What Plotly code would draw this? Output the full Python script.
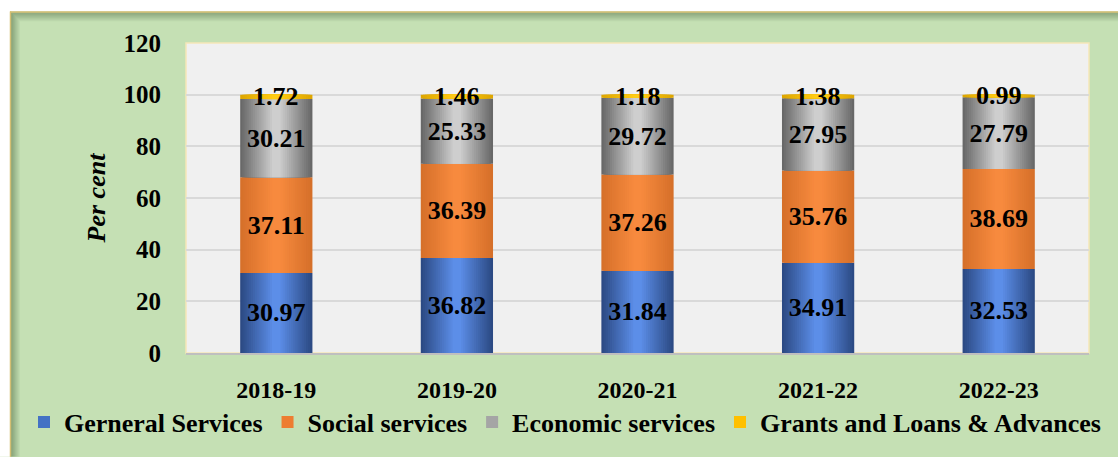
import plotly.graph_objects as go

years = ["2018-19", "2019-20", "2020-21", "2021-22", "2022-23"]
general = [30.97, 36.82, 31.84, 34.91, 32.53]
social = [37.11, 36.39, 37.26, 35.76, 38.69]
economic = [30.21, 25.33, 29.72, 27.95, 27.79]
grants = [1.72, 1.46, 1.18, 1.38, 0.99]

series_names = ["Gerneral Services", "Social services", "Economic services", "Grants and Loans & Advances"]
series_values = [general, social, economic, grants]
legend_colors = ["#4472C4", "#ED7D31", "#A5A5A5", "#FFC000"]
edge_colors = [(44, 74, 132), (214, 112, 42), (104, 104, 104), (222, 166, 0)]
center_colors = [(92, 142, 232), (247, 138, 62), (206, 206, 206), (255, 204, 20)]

W, H = 1118, 457
L, R, T, B = 186, 29, 43, 100
PW, PH = W - L - R, H - T - B
BAR_W = 0.4
N_LAYERS = 16


def px(x):
    return (x - L) / PW


def py(y):
    return (H - B - y) / PH


FONT = "Liberation Serif"

fig = go.Figure()
bases = [0.0] * len(years)
for s, (name, vals) in enumerate(zip(series_names, series_values)):
    base = list(bases)
    e, c = edge_colors[s], center_colors[s]
    for k in range(N_LAYERS):
        t = k / (N_LAYERS - 1)
        col = "rgb(%d,%d,%d)" % tuple(round(e[j] + (c[j] - e[j]) * t) for j in range(3))
        fig.add_trace(go.Bar(
            x=years, y=vals, base=base, width=BAR_W * (1 - 0.94 * k / N_LAYERS),
            marker=dict(color=col, line=dict(width=0)),
            showlegend=False, hoverinfo="skip",
        ))
    show_text = s < 3
    fig.add_trace(go.Bar(
        x=years, y=vals, base=base, width=BAR_W, name=name,
        marker=dict(color="rgba(0,0,0,0)", line=dict(width=0)),
        showlegend=False,
        text=[f"{v:.2f}" for v in vals] if show_text else None,
        textposition="inside" if show_text else "none",
        insidetextanchor="middle", textangle=0,
        textfont=dict(family=FONT, size=26, color="black", weight="bold"),
    ))
    fig.add_trace(go.Bar(
        x=[years[0]], y=[0], base=[0], width=BAR_W, name=name,
        marker=dict(color=legend_colors[s], line=dict(width=0)),
        showlegend=True, hoverinfo="skip", legendrank=s + 1,
    ))
    bases = [b + v for b, v in zip(bases, vals)]

for i, yr in enumerate(years):
    top_base = general[i] + social[i] + economic[i]
    fig.add_annotation(x=yr, y=top_base + grants[i] / 2, text=f"{grants[i]:.2f}",
                       showarrow=False, yanchor="middle",
                       font=dict(family=FONT, size=26, color="black", weight="bold"))

shapes = []
shapes.append(dict(type="rect", xref="paper", yref="paper", x0=px(-5), x1=px(W + 5), y0=py(11), y1=py(-5),
                   fillcolor="white", line=dict(width=0), layer="below"))
shapes.append(dict(type="rect", xref="paper", yref="paper", x0=px(-5), x1=px(10), y0=py(H + 5), y1=py(-5),
                   fillcolor="white", line=dict(width=0), layer="below"))
for k in range(9):
    a = 0.45 * (1 - k / 9)
    shapes.append(dict(type="line", xref="paper", yref="paper", x0=px(11.5 + k), x1=px(11.5 + k),
                       y0=py(12 + k), y1=py(H + 5), line=dict(color=f"rgba(60,90,50,{a:.3f})", width=1), layer="below"))
    shapes.append(dict(type="line", xref="paper", yref="paper", x0=px(12 + k), x1=px(W + 5),
                       y0=py(12.5 + k), y1=py(12.5 + k), line=dict(color=f"rgba(60,90,50,{a:.3f})", width=1), layer="below"))
shapes.append(dict(type="line", xref="paper", yref="paper", x0=px(10.5), x1=px(10.5), y0=py(11), y1=py(H + 5),
                   line=dict(color="#D4BE72", width=1.5), layer="below"))
shapes.append(dict(type="line", xref="paper", yref="paper", x0=px(10), x1=px(W + 5), y0=py(11.5), y1=py(11.5),
                   line=dict(color="#D4BE72", width=1.5), layer="below"))
shapes.append(dict(type="rect", xref="paper", yref="paper", x0=0, x1=1, y0=0, y1=1,
                   line=dict(color="#F5E6B8", width=1.5), layer="below"))

fig.update_layout(
    width=W, height=H,
    margin=dict(l=L, r=R, t=T, b=B),
    paper_bgcolor="#C5E0B4",
    plot_bgcolor="#F0F0F0",
    barmode="overlay",
    shapes=shapes,
    font=dict(family=FONT, size=24, color="black"),
    showlegend=True,
    legend=dict(orientation="h", x=px(24), xanchor="left", y=py(427), yanchor="middle",
                font=dict(family=FONT, size=26, color="black", weight="bold"),
                bgcolor="rgba(0,0,0,0)", itemwidth=30, tracegroupgap=0,
                traceorder="normal"),
    xaxis=dict(showgrid=False, showline=True, linecolor="#BFBFBF", linewidth=1.5,
               tickfont=dict(family=FONT, size=24, color="black", weight="bold"),
               ticks="", ticklabelstandoff=14),
    yaxis=dict(range=[0, 120], dtick=20, showgrid=True, gridcolor="#D9D9D9", gridwidth=2,
               zeroline=False, showline=False,
               tickfont=dict(family=FONT, size=25, color="black", weight="bold"),
               ticks="", ticklabelstandoff=24,
               title=dict(text="<i>Per cent</i>", standoff=10,
                          font=dict(family=FONT, size=26, color="black", weight="bold"))),
    uniformtext=dict(minsize=26, mode="show"),
)

fig.write_html("out.html")
